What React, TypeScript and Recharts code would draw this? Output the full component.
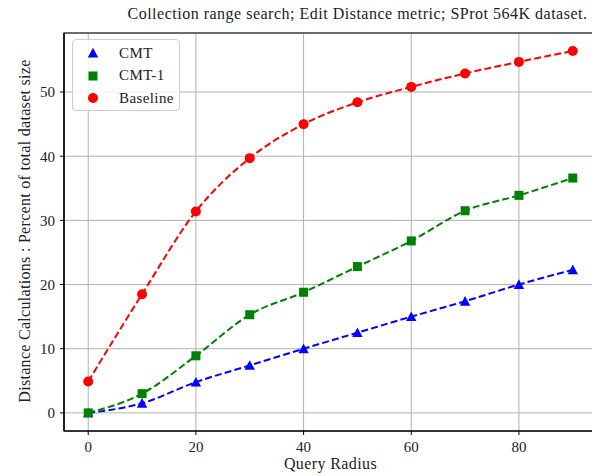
import React from "react";
import { LineChart, Line, XAxis, YAxis, CartesianGrid, ReferenceArea } from "recharts";

const radius = [0, 10, 20, 30, 40, 50, 60, 70, 80, 90];
const cmt = [0, 1.5, 4.8, 7.4, 10.0, 12.5, 15.0, 17.4, 20.0, 22.3];
const cmt1 = [0, 3.0, 8.9, 15.3, 18.8, 22.8, 26.8, 31.5, 33.9, 36.6];
const baseline = [4.9, 18.5, 31.4, 39.7, 45.0, 48.4, 50.8, 52.9, 54.7, 56.4];
const xTicks = [0, 20, 40, 60, 80];
const yTicks = [0, 10, 20, 30, 40, 50];

const data = radius.map((r, i) => ({ r, cmt: cmt[i], cmt1: cmt1[i], baseline: baseline[i] }));

const FONT = "'Liberation Serif', 'DejaVu Serif', serif";
const X_DOMAIN: [number, number] = [-4.5, 94.5];
const Y_DOMAIN: [number, number] = [-2.82, 59.2];

const Tri = (props: any) => {
  const { cx, cy, fill } = props;
  if (cx == null || cy == null) return null;
  const s = 5.2;
  return <polygon points={`${cx},${cy - s} ${cx - s},${cy + s * 0.85} ${cx + s},${cy + s * 0.85}`} fill={fill} />;
};
const Sq = (props: any) => {
  const { cx, cy, fill } = props;
  if (cx == null || cy == null) return null;
  const s = 4.5;
  return <rect x={cx - s} y={cy - s} width={2 * s} height={2 * s} fill={fill} />;
};
const Circ = (props: any) => {
  const { cx, cy, fill } = props;
  if (cx == null || cy == null) return null;
  return <circle cx={cx} cy={cy} r={5} fill={fill} />;
};

const legendItems = [
  { name: "CMT", color: "#0000ff", shape: "tri" },
  { name: "CMT-1", color: "#008000", shape: "sq" },
  { name: "Baseline", color: "#ff0000", shape: "circ" },
];

const LegendBox = () => (
  <div
    style={{
      position: "absolute",
      top: 39,
      left: 72,
      boxSizing: "border-box",
      width: 108,
      height: 72,
      border: "1px solid #cccccc",
      borderRadius: 4,
      background: "rgba(255,255,255,0.8)",
      padding: "2px 0 0 11px",
      fontFamily: FONT,
      fontSize: 15,
      letterSpacing: 0.4,
      zIndex: 3,
    }}
  >
    {legendItems.map((it) => (
      <div key={it.name} style={{ display: "flex", alignItems: "center", height: 22.5 }}>
        <svg width={35} height={14}>
          {it.shape === "tri" && <Tri cx={9} cy={7} fill={it.color} />}
          {it.shape === "sq" && <Sq cx={9} cy={7} fill={it.color} />}
          {it.shape === "circ" && <Circ cx={9} cy={7} fill={it.color} />}
        </svg>
        <span style={{ color: "#222" }}>{it.name}</span>
      </div>
    ))}
  </div>
);

export default function App() {
  const tickStyle = { fontFamily: FONT, fontSize: 15, fill: "#222" };
  const lineProps = { type: "monotone" as const, strokeWidth: 2, strokeDasharray: "7 3.2", activeDot: false, isAnimationActive: false };
  return (
    <div style={{ marginTop: -8, marginLeft: -8, width: 600, height: 476, position: "relative", background: "#fff" }}>
      <div
        style={{
          position: "absolute",
          top: 5,
          left: 91,
          width: 533,
          textAlign: "center",
          fontFamily: FONT,
          fontSize: 16,
          letterSpacing: 0.5,
          whiteSpace: "nowrap",
          color: "#222",
          zIndex: 2,
        }}
      >
        Collection range search; Edit Distance metric; SProt 564K dataset.
      </div>
      <div
        style={{
          position: "absolute",
          top: 455,
          left: 64,
          width: 533,
          textAlign: "center",
          fontFamily: FONT,
          fontSize: 16,
          letterSpacing: 0.4,
          color: "#222",
          zIndex: 2,
        }}
      >
        Query Radius
      </div>
      <div
        style={{
          position: "absolute",
          left: 25,
          top: 231,
          width: 0,
          height: 0,
          zIndex: 2,
        }}
      >
        <div
          style={{
            position: "absolute",
            transform: "translate(-50%, -50%) rotate(-90deg)",
            whiteSpace: "nowrap",
            fontFamily: FONT,
            fontSize: 16,
            letterSpacing: 0.3,
            color: "#222",
          }}
        >
          Distance Calculations : Percent of total dataset size
        </div>
      </div>
      <LegendBox />
      <LineChart width={600} height={476} data={data} margin={{ top: 33, right: 3, bottom: 15, left: 24 }}>
        <CartesianGrid stroke="#b0b0b0" strokeWidth={1} />
        <XAxis
          dataKey="r"
          type="number"
          domain={X_DOMAIN}
          ticks={xTicks}
          allowDataOverflow
          height={30}
          tick={tickStyle}
          tickSize={4}
          tickMargin={6}
          axisLine={{ stroke: "#000", strokeWidth: 1.2 }}
          tickLine={{ stroke: "#000" }}
        />
        <YAxis
          type="number"
          domain={Y_DOMAIN}
          ticks={yTicks}
          allowDataOverflow
          width={40}
          tick={tickStyle}
          tickSize={4}
          tickMargin={5}
          axisLine={{ stroke: "#000", strokeWidth: 1.2 }}
          tickLine={{ stroke: "#000" }}
        />
        <ReferenceArea
          x1={X_DOMAIN[0]}
          x2={X_DOMAIN[1]}
          y1={Y_DOMAIN[0]}
          y2={Y_DOMAIN[1]}
          ifOverflow="visible"
          fill="none"
          fillOpacity={0}
          stroke="#000"
          strokeWidth={1.2}
        />
        <Line dataKey="cmt" name="CMT" stroke="#0000ff" dot={<Tri fill="#0000ff" />} {...lineProps} />
        <Line dataKey="cmt1" name="CMT-1" stroke="#008000" dot={<Sq fill="#008000" />} {...lineProps} />
        <Line dataKey="baseline" name="Baseline" stroke="#ff0000" dot={<Circ fill="#ff0000" />} {...lineProps} />
      </LineChart>
    </div>
  );
}
